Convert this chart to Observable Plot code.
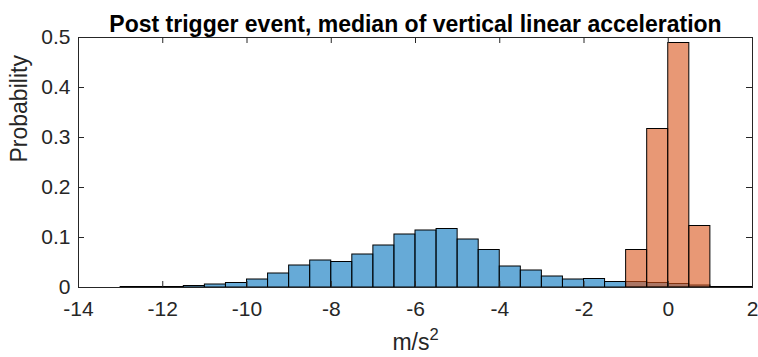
<!DOCTYPE html>
<html>
<head>
<meta charset="utf-8">
<script src="https://cdn.jsdelivr.net/npm/d3@7"></script>
<script src="https://cdn.jsdelivr.net/npm/@observablehq/plot@0.6"></script>
<style>
  html, body { margin: 0; padding: 0; background: #fff; }
  #chart svg { display: block; }
</style>
</head>
<body>
<div id="chart"></div>
<script>
const titleText = "Post trigger event, median of vertical linear acceleration";
const xLabel = "m/s";
const xLabelSup = "2";
const yLabel = "Probability";
const binWidth = 0.5;

// Series 1 (blue): bin lower edges and probabilities
const blueBinStart = [-13, -12.5, -12, -11.5, -11, -10.5, -10, -9.5, -9, -8.5, -8, -7.5, -7, -6.5, -6, -5.5, -5, -4.5, -4, -3.5, -3, -2.5, -2, -1.5, -1, -0.5, 0, 0.5];
const blueProb = [0.001, 0.001, 0.001, 0.003, 0.006, 0.009, 0.016, 0.028, 0.044, 0.054, 0.051, 0.066, 0.084, 0.106, 0.114, 0.117, 0.096, 0.075, 0.042, 0.034, 0.022, 0.016, 0.017, 0.011, 0.011, 0.009, 0.007, 0.004];

// Series 2 (orange)
const orangeBinStart = [-1, -0.5, 0, 0.5, 1, 1.5];
const orangeProb = [0.075, 0.317, 0.489, 0.123, 0.001, 0.001];

const xTicks = [-14, -12, -10, -8, -6, -4, -2, 0, 2];
const yTicks = [0, 0.1, 0.2, 0.3, 0.4, 0.5];

const blue = blueBinStart.map((s, i) => ({x1: s, x2: s + binWidth, y: blueProb[i]}));
const orange = orangeBinStart.map((s, i) => ({x1: s, x2: s + binWidth, y: orangeProb[i]}));

const W = 758, H = 357;
const mL = 78, mR = 6, mT = 37, mB = 70;
const plotW = W - mL - mR, plotH = H - mT - mB;
const tick = 6;
const axisColor = "#262626";
const font = "'Liberation Sans', Arial, Helvetica, sans-serif";

const chart = Plot.plot({
  width: W,
  height: H,
  marginLeft: mL,
  marginRight: mR,
  marginTop: mT,
  marginBottom: mB,
  style: {fontFamily: font, color: axisColor, background: "#fff"},
  x: {domain: [-14, 2]},
  y: {domain: [0, 0.5]},
  marks: [
    Plot.rectY(blue, {x1: "x1", x2: "x2", y: "y", fill: "#0072BD", fillOpacity: 0.6, stroke: "#000", strokeWidth: 1}),
    Plot.rectY(orange, {x1: "x1", x2: "x2", y: "y", fill: "#D95319", fillOpacity: 0.6, stroke: "#000", strokeWidth: 1}),
    Plot.frame({stroke: axisColor, strokeWidth: 1}),
    Plot.tickX(xTicks, {x: d => d, stroke: axisColor, insetTop: plotH - tick}),
    Plot.tickX(xTicks, {x: d => d, stroke: axisColor, insetBottom: plotH - tick}),
    Plot.tickY(yTicks, {y: d => d, stroke: axisColor, insetRight: plotW - tick}),
    Plot.tickY(yTicks, {y: d => d, stroke: axisColor, insetLeft: plotW - tick}),
    Plot.axisX(xTicks, {tickSize: 0, tickPadding: 14, fontSize: 21, tickFormat: d => String(d), color: axisColor, label: null}),
    Plot.axisY(yTicks, {tickSize: 0, tickPadding: 8, fontSize: 21, tickFormat: d => d === 0 ? "0" : d3.format(".1f")(d), color: axisColor, label: null}),
    Plot.text([titleText], {frameAnchor: "top", dy: -22, fontSize: 23, fontWeight: "bold", fill: "#000", text: d => d}),
    Plot.text([xLabel], {frameAnchor: "bottom", dy: 62, fontSize: 23, fill: axisColor, text: d => d, className: "xlab"}),
    Plot.text([yLabel], {frameAnchor: "left", dx: -59, rotate: -90, fontSize: 23, fill: axisColor, text: d => d})
  ]
});
// superscript on the x label
d3.select(chart).selectAll("g.xlab text").append("tspan")
  .attr("dy", "-0.55em").attr("font-size", "0.72em").text(xLabelSup);
document.getElementById("chart").appendChild(chart);
</script>
</body>
</html>
